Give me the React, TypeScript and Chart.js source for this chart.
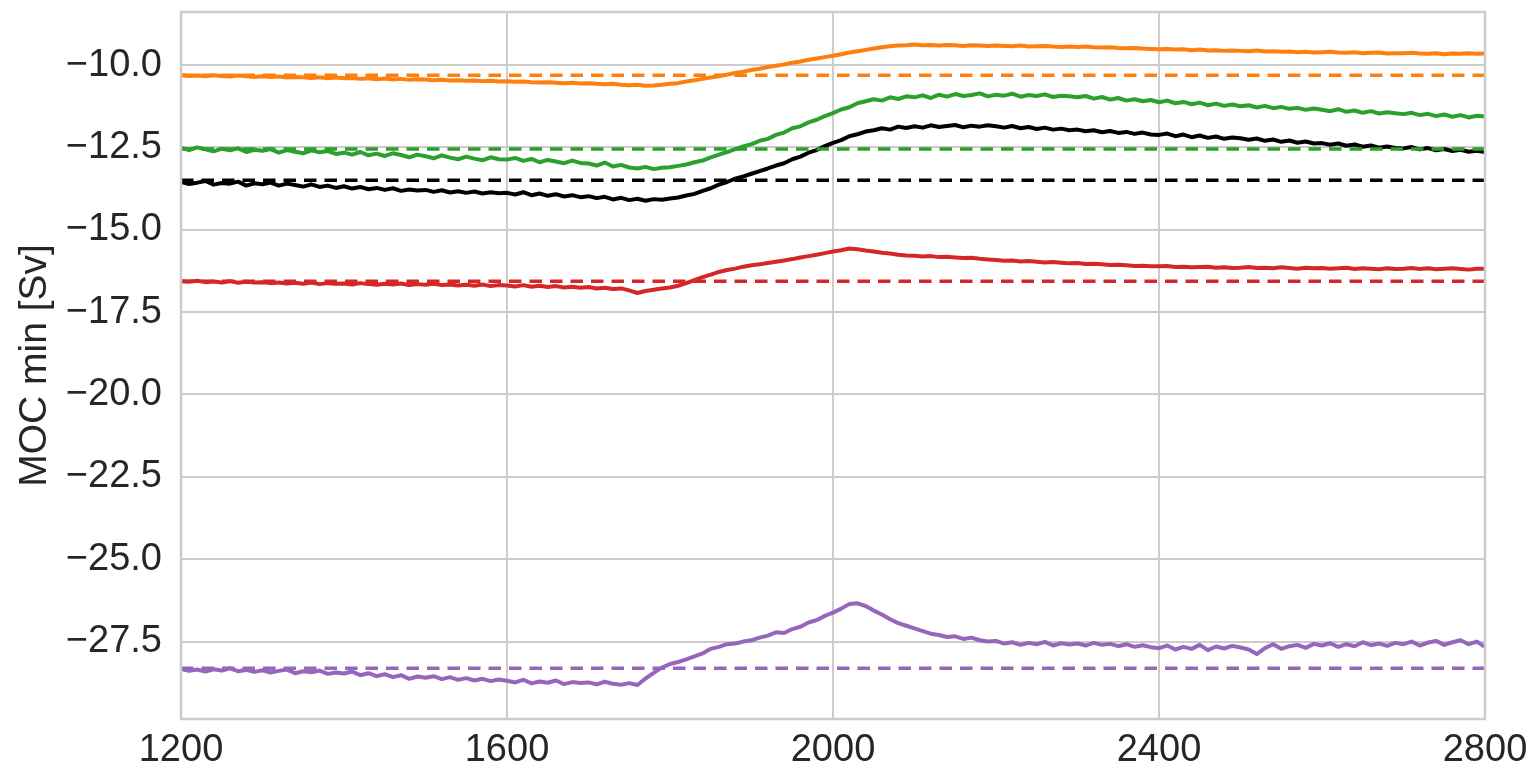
import React, { useEffect, useRef } from "react";
import { Chart, registerables } from "chart.js";

Chart.register(...registerables);

// x positions (model years, every 10 years)
const years: number[] = Array.from({ length: 161 }, (_, i) => 1200 + i * 10);

const xTicks = [1200, 1600, 2000, 2400, 2800];
const yTicks = [-27.5, -25.0, -22.5, -20.0, -17.5, -15.0, -12.5, -10.0];

const orangeSeries = [
  -10.31, -10.33, -10.32, -10.34, -10.31, -10.33, -10.35, -10.32, -10.34, -10.36,
  -10.34, -10.36, -10.35, -10.38, -10.36, -10.37, -10.39, -10.37, -10.40, -10.38,
  -10.40, -10.39, -10.42, -10.40, -10.43, -10.41, -10.44, -10.42, -10.45, -10.43,
  -10.44, -10.46, -10.45, -10.47, -10.46, -10.48, -10.47, -10.49, -10.48, -10.50,
  -10.49, -10.51, -10.50, -10.52, -10.53, -10.52, -10.54, -10.55, -10.54, -10.56,
  -10.55, -10.57, -10.58, -10.57, -10.60, -10.61, -10.60, -10.63, -10.62, -10.60,
  -10.57, -10.55, -10.50, -10.46, -10.42, -10.38, -10.34, -10.29, -10.24, -10.20,
  -10.15, -10.11, -10.06, -10.02, -9.98, -9.93, -9.89, -9.84, -9.80, -9.76,
  -9.72, -9.67, -9.62, -9.58, -9.54, -9.50, -9.46, -9.43, -9.41, -9.40,
  -9.38, -9.40, -9.39, -9.41, -9.39, -9.40, -9.42, -9.40, -9.41, -9.42,
  -9.41, -9.42, -9.43, -9.41, -9.44, -9.43, -9.42, -9.44, -9.45, -9.44,
  -9.45, -9.44, -9.46, -9.47, -9.46, -9.48, -9.49, -9.48, -9.50, -9.51,
  -9.52, -9.51, -9.53, -9.52, -9.55, -9.53, -9.56, -9.55, -9.57, -9.56,
  -9.57, -9.58, -9.56, -9.59, -9.58, -9.60, -9.59, -9.61, -9.60, -9.62,
  -9.61, -9.60, -9.62, -9.63, -9.61, -9.64, -9.63, -9.62, -9.65, -9.64,
  -9.64, -9.63, -9.65, -9.66, -9.64, -9.67, -9.65, -9.66, -9.64, -9.66,
  -9.65,
];

const greenSeries = [
  -12.52, -12.58, -12.50, -12.56, -12.62, -12.54, -12.59, -12.53, -12.64, -12.57,
  -12.60, -12.55, -12.66, -12.58, -12.63, -12.68, -12.59, -12.65, -12.61, -12.70,
  -12.66, -12.72, -12.64, -12.74, -12.69, -12.76, -12.68, -12.73, -12.80, -12.72,
  -12.77, -12.83, -12.74, -12.81, -12.86, -12.78, -12.84, -12.89, -12.80, -12.86,
  -12.87, -12.82, -12.91, -12.85, -12.95, -12.88, -12.93, -12.98, -12.90, -12.97,
  -12.99, -13.05, -12.96, -13.08, -13.03, -13.11, -13.14, -13.09, -13.16, -13.12,
  -13.10, -13.06, -13.02, -12.95, -12.90, -12.80, -12.72, -12.64, -12.55, -12.47,
  -12.40, -12.30, -12.24, -12.12, -12.05, -11.92, -11.86, -11.74, -11.66, -11.55,
  -11.46, -11.35, -11.28, -11.16, -11.10, -11.04, -11.08, -10.98, -11.03, -10.95,
  -10.98, -10.92, -11.00, -10.90, -10.96, -10.88, -10.94, -10.91, -10.86, -10.95,
  -10.90, -10.93, -10.87, -10.96, -10.91, -10.94, -10.89, -10.97, -10.93, -10.95,
  -10.98, -10.94, -11.02, -10.97, -11.05, -11.00, -11.08, -11.04, -11.10, -11.06,
  -11.13, -11.08, -11.16, -11.12, -11.19, -11.14, -11.22, -11.17, -11.24, -11.20,
  -11.25, -11.22, -11.29, -11.24, -11.31, -11.27, -11.33, -11.30, -11.36, -11.32,
  -11.36, -11.40, -11.34, -11.42, -11.38, -11.45, -11.40, -11.47, -11.43, -11.46,
  -11.49, -11.45, -11.52, -11.48, -11.55, -11.50, -11.57, -11.52, -11.59, -11.54,
  -11.56,
];

const blackSeries = [
  -13.55, -13.61, -13.57, -13.52, -13.63, -13.58, -13.60, -13.54, -13.66, -13.59,
  -13.62, -13.57, -13.66, -13.60, -13.64, -13.69, -13.62, -13.70, -13.66, -13.73,
  -13.68, -13.75, -13.70, -13.77, -13.73, -13.79, -13.74, -13.82, -13.78, -13.81,
  -13.79, -13.85, -13.80, -13.87, -13.83, -13.88, -13.84, -13.90, -13.86, -13.89,
  -13.88, -13.93, -13.86, -13.95, -13.90, -13.97, -13.92, -13.99, -13.95, -14.01,
  -13.98, -14.04, -14.00, -14.08, -14.03, -14.10, -14.06, -14.12, -14.07, -14.09,
  -14.05, -14.02, -13.96, -13.91, -13.82, -13.74, -13.63, -13.55, -13.45, -13.38,
  -13.30, -13.22, -13.14, -13.05, -12.98, -12.86, -12.78, -12.66, -12.58, -12.46,
  -12.36, -12.28, -12.16, -12.10, -12.02, -11.98, -11.92, -11.96, -11.87, -11.91,
  -11.86, -11.90, -11.83, -11.88, -11.85, -11.82, -11.89, -11.84, -11.87, -11.83,
  -11.86, -11.90, -11.85, -11.92, -11.88, -11.94, -11.90, -11.96, -11.93, -11.98,
  -11.96, -12.01, -11.98, -12.04, -12.00, -12.06, -12.03, -12.09, -12.05, -12.11,
  -12.12, -12.08, -12.16, -12.11, -12.19, -12.14, -12.21, -12.17, -12.24, -12.20,
  -12.22, -12.27, -12.23, -12.30, -12.26, -12.33, -12.29, -12.36, -12.32, -12.38,
  -12.37, -12.42, -12.38, -12.45, -12.41, -12.48, -12.44, -12.51, -12.47, -12.52,
  -12.53, -12.49, -12.56, -12.52, -12.59, -12.55, -12.61, -12.57, -12.63, -12.60,
  -12.64,
];

const redSeries = [
  -16.56, -16.58, -16.55, -16.59, -16.57, -16.60, -16.56, -16.61, -16.58, -16.60,
  -16.59, -16.62, -16.60, -16.63, -16.61, -16.64, -16.60, -16.65, -16.62, -16.64,
  -16.63, -16.66, -16.62, -16.65, -16.67, -16.64, -16.66, -16.63, -16.68, -16.65,
  -16.67, -16.64, -16.68, -16.66, -16.69, -16.67, -16.70, -16.66, -16.71, -16.68,
  -16.69, -16.72, -16.68, -16.73, -16.70, -16.74, -16.71, -16.75, -16.73, -16.76,
  -16.74, -16.78, -16.76, -16.80, -16.78, -16.84, -16.92, -16.86, -16.82, -16.78,
  -16.75, -16.70, -16.62, -16.53, -16.44, -16.36, -16.28, -16.22, -16.18, -16.12,
  -16.08, -16.05, -16.01, -15.97, -15.93, -15.89, -15.84, -15.80, -15.76, -15.71,
  -15.66, -15.62, -15.57, -15.59, -15.63, -15.66, -15.70, -15.72, -15.76, -15.78,
  -15.79, -15.81, -15.80, -15.83, -15.82, -15.84, -15.86, -15.85, -15.88, -15.90,
  -15.92, -15.94, -15.93, -15.96, -15.95, -15.97, -15.99, -15.98, -16.00, -16.02,
  -16.01, -16.04, -16.03, -16.05, -16.07, -16.06, -16.08, -16.10, -16.09, -16.11,
  -16.11, -16.10, -16.13, -16.12, -16.14, -16.13, -16.12, -16.15, -16.14, -16.16,
  -16.15, -16.13, -16.16, -16.15, -16.17, -16.14, -16.16, -16.18, -16.15, -16.17,
  -16.16, -16.18, -16.17, -16.15, -16.19, -16.17, -16.18, -16.20, -16.17, -16.19,
  -16.18, -16.16, -16.19, -16.17, -16.20, -16.18, -16.17, -16.19, -16.21, -16.18,
  -16.18,
];

const purpleSeries = [
  -28.33, -28.39, -28.35, -28.41, -28.34, -28.38, -28.31, -28.40, -28.36, -28.42,
  -28.37, -28.44, -28.39, -28.35, -28.46, -28.40, -28.43, -28.38, -28.48, -28.44,
  -28.47, -28.41, -28.52, -28.46, -28.55, -28.49, -28.58, -28.52, -28.63, -28.56,
  -28.60, -28.55, -28.64, -28.58, -28.66, -28.61, -28.68, -28.63, -28.70, -28.65,
  -28.69, -28.74, -28.66, -28.77, -28.71, -28.75, -28.68, -28.79, -28.73, -28.76,
  -28.74, -28.80, -28.72, -28.78, -28.81, -28.76, -28.82, -28.62, -28.45, -28.29,
  -28.18, -28.12, -28.04, -27.95, -27.86, -27.72, -27.66, -27.58, -27.56, -27.50,
  -27.46, -27.38, -27.32, -27.22, -27.24, -27.12, -27.05, -26.92, -26.85, -26.72,
  -26.62, -26.50, -26.36, -26.34, -26.42, -26.56, -26.68, -26.82, -26.94, -27.02,
  -27.10, -27.18, -27.26, -27.30, -27.36, -27.34, -27.42, -27.38, -27.46, -27.50,
  -27.48, -27.56, -27.52, -27.60, -27.54, -27.58, -27.51, -27.62, -27.55, -27.59,
  -27.56, -27.62, -27.54, -27.60, -27.57, -27.64, -27.58, -27.66, -27.61, -27.67,
  -27.70, -27.62, -27.74, -27.66, -27.72, -27.60, -27.76, -27.65, -27.71, -27.63,
  -27.68, -27.74, -27.88, -27.70, -27.58, -27.72, -27.64, -27.60, -27.69, -27.57,
  -27.62, -27.55, -27.66, -27.58, -27.64, -27.52, -27.61, -27.56, -27.63, -27.54,
  -27.58, -27.50, -27.62, -27.53, -27.48, -27.60, -27.52, -27.46, -27.58, -27.50,
  -27.66,
];

// control-run reference levels (dashed lines)
const seriesNames = ["orange", "green", "black", "red", "purple"];
const seriesColors = ["#ff7f0e", "#2ca02c", "#000000", "#d62728", "#9467bd"];
const baselineValues = [-10.31, -12.55, -13.5, -16.56, -28.31];
const allSeries = [orangeSeries, greenSeries, blackSeries, redSeries, purpleSeries];

const X_MIN = 1200;
const X_MAX = 2800;
const Y_MIN = -29.85;
const Y_MAX = -8.39;

const FONT = "'Liberation Sans', Arial, Helvetica, sans-serif";
const TEXT = "#262626";
const GRID = "#cccccc";

const frame = {
  id: "frame",
  afterDraw(chart: any) {
    const { ctx, chartArea } = chart;
    ctx.save();
    ctx.strokeStyle = GRID;
    ctx.lineWidth = 2.5;
    ctx.strokeRect(chartArea.left, chartArea.top, chartArea.right - chartArea.left, chartArea.bottom - chartArea.top);
    ctx.restore();
  },
};

export default function App() {
  const ref = useRef<HTMLCanvasElement | null>(null);

  useEffect(() => {
    if (!ref.current) return;
    const datasets: any[] = [];
    allSeries.forEach((vals, k) => {
      datasets.push({
        label: seriesNames[k],
        data: years.map((x, i) => ({ x, y: vals[i] })),
        borderColor: seriesColors[k],
        borderWidth: 4,
        pointRadius: 0,
        tension: 0,
        fill: false,
        order: 2,
        borderJoinStyle: "round",
      });
    });
    allSeries.forEach((_, k) => {
      datasets.push({
        label: seriesNames[k] + " control",
        data: [
          { x: X_MIN, y: baselineValues[k] },
          { x: X_MAX, y: baselineValues[k] },
        ],
        borderColor: seriesColors[k],
        borderWidth: 3.5,
        borderDash: [12.5, 8],
        pointRadius: 0,
        fill: false,
        order: 1,
      });
    });

    const chart = new Chart(ref.current, {
      type: "line",
      data: { datasets },
      options: {
        animation: false,
        responsive: true,
        maintainAspectRatio: false,
        layout: { padding: { top: 12, right: 48, left: 0, bottom: 0 } },
        plugins: { legend: { display: false }, tooltip: { enabled: false } },
        scales: {
          x: {
            type: "linear",
            min: X_MIN,
            max: X_MAX,
            afterBuildTicks: (s: any) => {
              s.ticks = xTicks.map((v) => ({ value: v }));
            },
            afterFit: (s: any) => {
              s.height = 54;
              s.paddingLeft = 0;
              s.paddingRight = 0;
            },
            grid: { color: GRID, lineWidth: 2, drawTicks: false },
            border: { display: false },
            ticks: {
              color: TEXT,
              font: { family: FONT, size: 38 },
              padding: 9,
              maxRotation: 0,
              callback: (v: any) => String(v),
            },
          },
          y: {
            type: "linear",
            min: Y_MIN,
            max: Y_MAX,
            afterBuildTicks: (s: any) => {
              s.ticks = yTicks.map((v) => ({ value: v }));
            },
            afterFit: (s: any) => {
              s.width = 181;
              s.paddingTop = 0;
              s.paddingBottom = 0;
            },
            grid: { color: GRID, lineWidth: 2, drawTicks: false },
            border: { display: false },
            title: {
              display: true,
              text: "MOC min [Sv]",
              color: TEXT,
              font: { family: FONT, size: 39 },
              padding: { top: 12, bottom: 0 },
            },
            ticks: {
              color: TEXT,
              font: { family: FONT, size: 38 },
              padding: 19,
              callback: (v: any) => {
                const n = Number(v);
                return (n < 0 ? "\u2212" : "") + Math.abs(n).toFixed(1);
              },
            },
          },
        },
      },
      plugins: [frame],
    });
    return () => chart.destroy();
  }, []);

  return (
    <div style={{ position: "absolute", left: 0, top: 0, width: 1533, height: 773, background: "#fff" }}>
      <canvas ref={ref} />
    </div>
  );
}
